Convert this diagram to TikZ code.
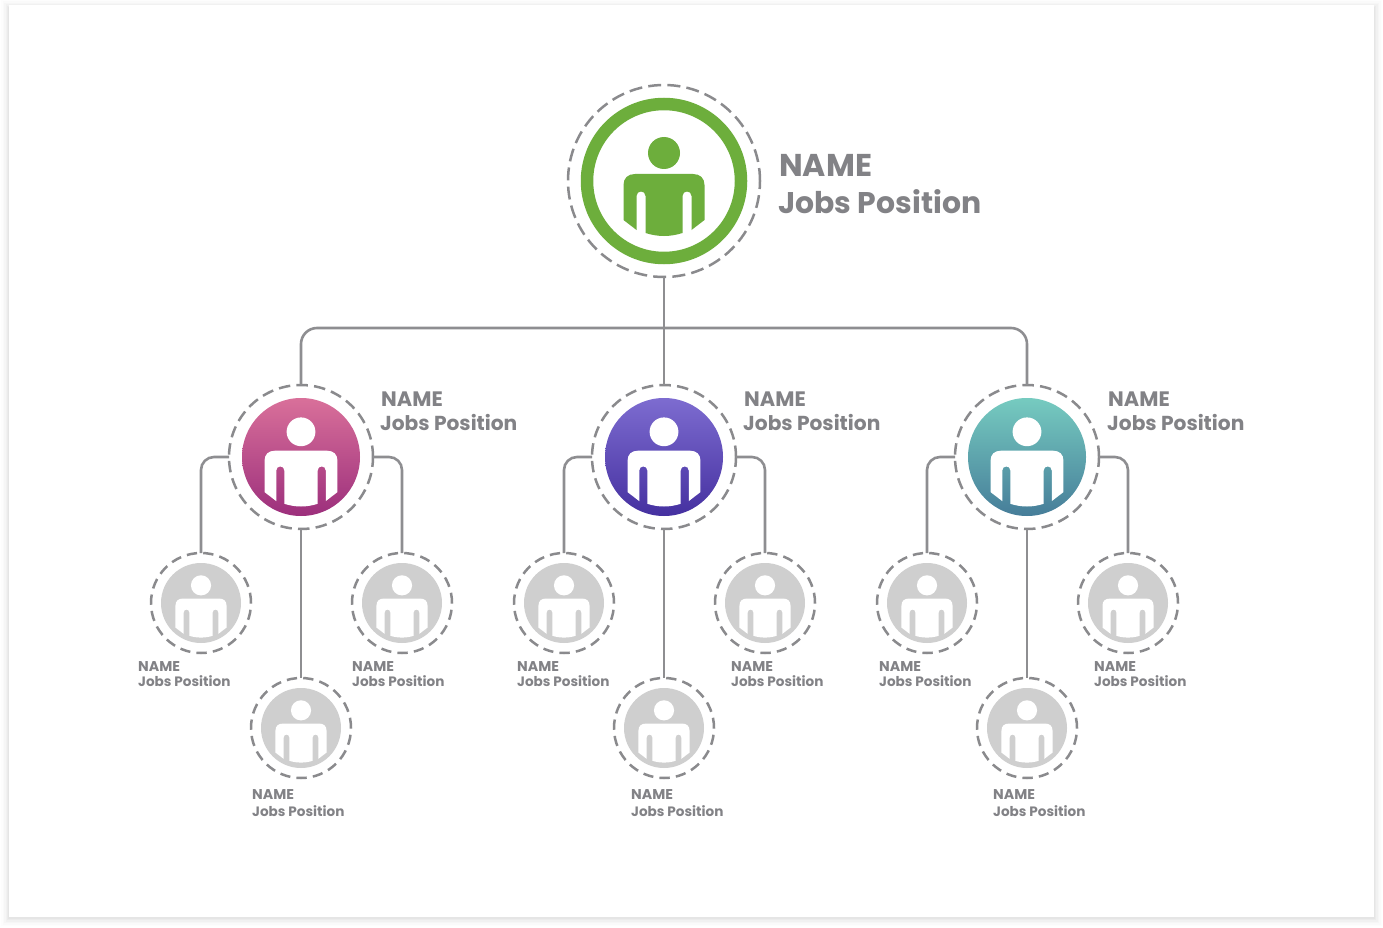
\documentclass[tikz,border=0pt]{standalone}
\usepackage{fontspec}
\setmainfont{Poppins}
\definecolor{linegray}{HTML}{8E8E91}
\definecolor{textgray}{HTML}{828286}
\definecolor{dotgray}{HTML}{8A8A8D}
\definecolor{leafgray}{HTML}{CFCFCF}
\definecolor{leaf}{HTML}{6DAE3C}
\definecolor{pinkT}{HTML}{D9709A}
\definecolor{pinkB}{HTML}{9C2F7C}
\definecolor{blueT}{HTML}{7D6CD0}
\definecolor{blueB}{HTML}{4530A0}
\definecolor{tealT}{HTML}{76CBC0}
\definecolor{tealB}{HTML}{467D99}
\tikzset{
  ring/.style 2 args={circle,draw=dotgray,line width=2.5pt,dash pattern=on #2 off 6.2pt,inner sep=0pt,outer sep=0pt,minimum size=#1},
  toplabel/.style={anchor=base west,inner sep=0pt,text=textgray,font=\fontsize{#1}{#1}\selectfont\bfseries},
  conn/.style={draw=linegray,line width=2.6pt},
  disc/.style 2 args={circle,inner sep=0pt,outer sep=0pt,minimum size=118pt,top color=#1,bottom color=#2},
  leafdisc/.style={circle,inner sep=0pt,outer sep=0pt,minimum size=80pt,fill=leafgray},
  topname/.style={toplabel=31.5},
  topjob/.style={toplabel=29.9},
  midname/.style={toplabel=20.9},
  midjob/.style={toplabel=20.2},
  smallname/.style={toplabel=14.2},
  smalljob/.style={toplabel=13.6},
  person/.pic={
    \fill (0,-28) circle (16);
    \fill (-40.5,4) .. controls (-40.5,-3) and (-36,-7) .. (-29,-7) -- (29,-7)
      .. controls (36,-7) and (40.5,-3) .. (40.5,4) -- (40.5,39) -- (27.5,49) -- (27.5,15)
      .. controls (27.5,9) and (18.5,9) .. (18.5,15) -- (18.5,52)
      .. controls (6,56) and (-6,56) .. (-18.5,52) -- (-18.5,15)
      .. controls (-18.5,9) and (-27.5,9) .. (-27.5,15) -- (-27.5,49) -- (-40.5,39) -- cycle;
  }
}
\begin{document}
\begin{tikzpicture}[x=1pt,y=-1pt]
\useasboundingbox (0,0) rectangle (1383,928);
\fill[white] (0,0) rectangle (1383,928);
% card shadow
\foreach \d/\o in {8/.008,6.5/.010,5/.014,3.5/.018,2/.022,1/.025}
  \fill[black,opacity=\o] (9-\d,5-\d+3) rectangle (1374+\d,917+\d+1);
\fill[white] (9,5) rectangle (1374,917);

% rings
\node[ring={192pt}{13pt}] (t) at (664,181) {};
\node[ring={144pt}{11.5pt}] (m1) at (301,457) {};
\node[ring={144pt}{11.5pt}] (m2) at (664,457) {};
\node[ring={144pt}{11.5pt}] (m3) at (1027,457) {};
\node[ring={100pt}{10.3pt}] (a1) at (201,603) {};
\node[ring={100pt}{10.3pt}] (a2) at (301,728) {};
\node[ring={100pt}{10.3pt}] (a3) at (402,603) {};
\node[ring={100pt}{10.3pt}] (b1) at (564,603) {};
\node[ring={100pt}{10.3pt}] (b2) at (664,728) {};
\node[ring={100pt}{10.3pt}] (b3) at (765,603) {};
\node[ring={100pt}{10.3pt}] (c1) at (927,603) {};
\node[ring={100pt}{10.3pt}] (c2) at (1027,728) {};
\node[ring={100pt}{10.3pt}] (c3) at (1128,603) {};

% connectors
\coordinate (bus) at (664,328);
\draw[conn] (t.south) -- (m2.north);
\draw[conn,rounded corners=16pt] (m1.north) |- (bus);
\draw[conn,rounded corners=16pt] (m3.north) |- (bus);
\foreach \m/\l/\c/\r in {m1/a1/a2/a3,m2/b1/b2/b3,m3/c1/c2/c3}{
  \draw[conn,rounded corners=13pt] (\m.west) -| (\l.north);
  \draw[conn,rounded corners=13pt] (\m.east) -| (\r.north);
  \draw[conn] (\m.south) -- (\c.north);
}

% top node
\node[circle,draw=leaf,line width=12.5pt,fill=white,inner sep=0pt,outer sep=0pt,minimum size=154pt] (tf) at (t) {};
\pic[fill=leaf] at (t) {person};

% mid nodes
\node[disc={pinkT}{pinkB}] (m1f) at (m1) {};
\node[disc={blueT}{blueB}] (m2f) at (m2) {};
\node[disc={tealT}{tealB}] (m3f) at (m3) {};
\foreach \n in {m1,m2,m3} \pic[fill=white,scale=.9] at (\n) {person};

% leaf nodes
\foreach \n in {a1,a2,a3,b1,b2,b3,c1,c2,c3}{
  \node[leafdisc] (\n f) at (\n) {};
  \pic[fill=white,scale=.63] at (\n) {person};
}

% labels
\node[topname] (tn) at (779,177) {NAME};
\node[topjob] (tj) at (778,213) {Jobs Position};
\node[midname] (m1n) at (381,406) {NAME};
\node[midjob] (m1j) at (380,430) {Jobs Position};
\node[midname] (m2n) at (744,406) {NAME};
\node[midjob] (m2j) at (743,430) {Jobs Position};
\node[midname] (m3n) at (1108,406) {NAME};
\node[midjob] (m3j) at (1107,430) {Jobs Position};
\node[smallname] (a1n) at (138,671.5) {NAME};
\node[smalljob] (a1j) at (138,686) {Jobs Position};
\node[smallname] (a2n) at (252,799.5) {NAME};
\node[smalljob] (a2j) at (252,816) {Jobs Position};
\node[smallname] (a3n) at (352,671.5) {NAME};
\node[smalljob] (a3j) at (352,686) {Jobs Position};
\node[smallname] (b1n) at (517,671.5) {NAME};
\node[smalljob] (b1j) at (517,686) {Jobs Position};
\node[smallname] (b2n) at (631,799.5) {NAME};
\node[smalljob] (b2j) at (631,816) {Jobs Position};
\node[smallname] (b3n) at (731,671.5) {NAME};
\node[smalljob] (b3j) at (731,686) {Jobs Position};
\node[smallname] (c1n) at (879,671.5) {NAME};
\node[smalljob] (c1j) at (879,686) {Jobs Position};
\node[smallname] (c2n) at (993,799.5) {NAME};
\node[smalljob] (c2j) at (993,816) {Jobs Position};
\node[smallname] (c3n) at (1094,671.5) {NAME};
\node[smalljob] (c3j) at (1094,686) {Jobs Position};
\end{tikzpicture}
\end{document}
